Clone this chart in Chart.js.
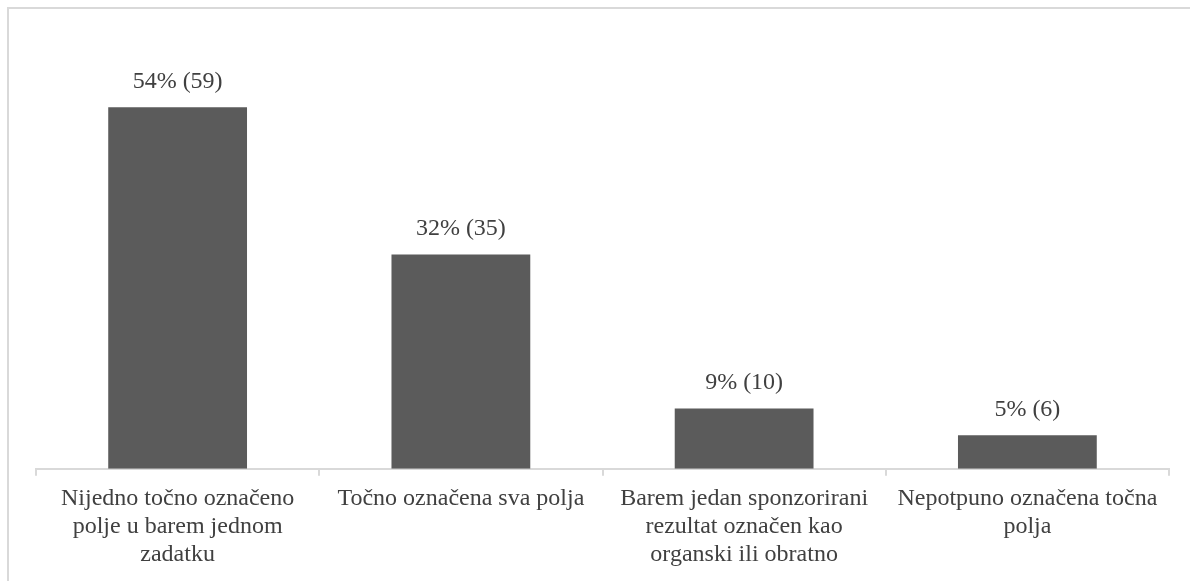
<!DOCTYPE html>
<html>
<head>
<meta charset="utf-8">
<script src="https://cdn.jsdelivr.net/npm/chart.js@4/dist/chart.umd.min.js"></script>
<style>
    html, body { margin: 0; padding: 0; background: #fff; overflow: hidden; }
    #wrap { position: relative; width: 1190px; height: 581px; }
    #frame {
        position: absolute; left: 7px; top: 7px; width: 1300px; height: 700px;
        border-left: 2px solid #d9d9d9; border-top: 2px solid #d9d9d9;
        pointer-events: none;
    }
    #grafico { position: absolute; left: 0; top: 0; }
</style>
</head>
<body>
<div id="wrap">
    <div id="frame"></div>
    <canvas id="grafico" width="1190" height="581"></canvas>
</div>
<script>
// categorías (con saltos de línea como en el original)
const categorias = [
    ['Nijedno točno označeno', 'polje u barem jednom', 'zadatku'],
    ['Točno označena sva polja'],
    ['Barem jedan sponzorirani', 'rezultat označen kao', 'organski ili obratno'],
    ['Nepotpuno označena točna', 'polja']
];
const porcentajes = [54, 32, 9, 5];
const cantidades  = [59, 35, 10, 6];

const COLOR_TEXTO = '#404040';
const FUENTE = 'Liberation Serif, Times New Roman, serif';

// etiquetas encima de cada barra: "54% (59)"
const etiquetasBarras = {
    id: 'etiquetasBarras',
    afterDatasetsDraw(chart) {
        const ctx = chart.ctx;
        const meta = chart.getDatasetMeta(0);
        ctx.save();
        ctx.font = '24px ' + FUENTE;
        ctx.fillStyle = COLOR_TEXTO;
        ctx.textAlign = 'center';
        ctx.textBaseline = 'alphabetic';
        meta.data.forEach((bar, i) => {
            const txt = porcentajes[i] + '% (' + cantidades[i] + ')';
            ctx.fillText(txt, bar.x, bar.y - 19);
        });
        ctx.restore();
    }
};

const ctx = document.getElementById('grafico').getContext('2d');
new Chart(ctx, {
    type: 'bar',
    data: {
        labels: categorias,
        datasets: [{
            data: porcentajes,
            backgroundColor: '#5b5b5b',
            borderWidth: 0,
            categoryPercentage: 1,
            barPercentage: 0.49
        }]
    },
    options: {
        responsive: false,
        animation: false,
        layout: { padding: { left: 36, right: 21, top: 67, bottom: 3 } },
        plugins: {
            legend: { display: false },
            tooltip: { enabled: false }
        },
        scales: {
            x: {
                grid: {
                    display: true,
                    drawOnChartArea: false,
                    drawTicks: true,
                    tickLength: 7,
                    color: '#d9d9d9',
                    lineWidth: 2
                },
                border: { display: true, color: '#d9d9d9', width: 2 },
                ticks: {
                    color: COLOR_TEXTO,
                    font: { family: FUENTE, size: 24, lineHeight: 1.17 },
                    padding: 9,
                    maxRotation: 0,
                    autoSkip: false
                }
            },
            y: {
                display: false,
                min: 0,
                max: 60
            }
        }
    },
    plugins: [etiquetasBarras]
});
</script>
</body>
</html>
